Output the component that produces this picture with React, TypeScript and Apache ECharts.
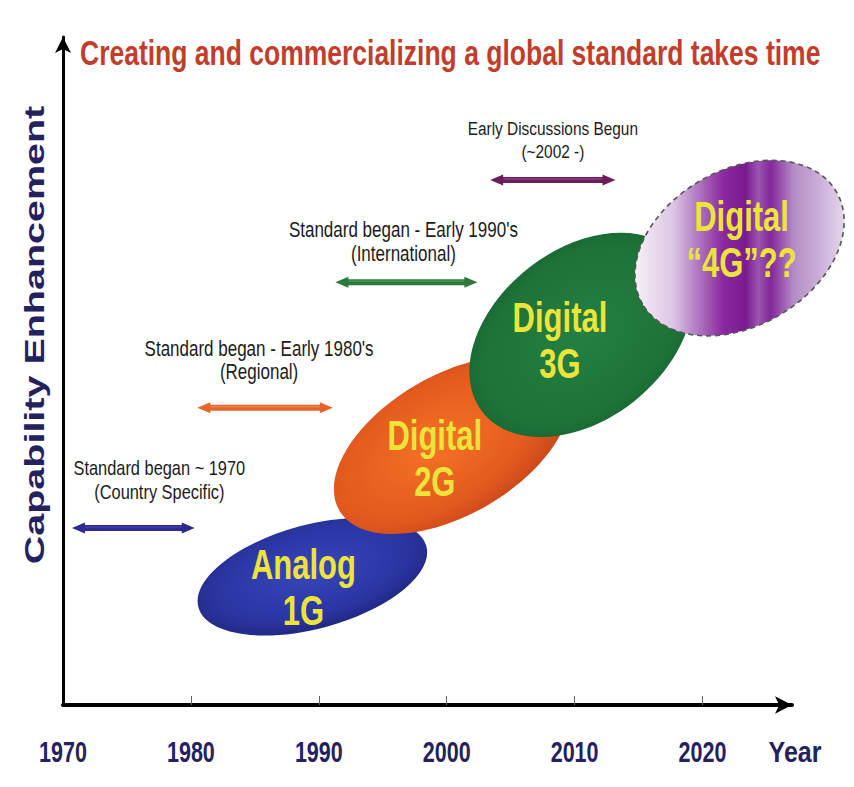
import React, { useEffect, useRef } from "react";
import * as echarts from "echarts";

// ---------- data ----------
const titleText = "Creating and commercializing a global standard takes time";
const yAxisTitle = "Capability Enhancement";
const xAxisTitle = "Year";
const yearTicks = [1970, 1980, 1990, 2000, 2010, 2020];
const yearMin = 1970;
const yearMax = 2027;
const levelMin = 0;
const levelMax = 100;

const generationLabels = ["Analog\n1G", "Digital\n2G", "Digital\n3G", "Digital\n\u201C4G\u201D??"];
const generationYear = [1989.5, 2000.4, 2010.5, 2022.9];
const generationLevel = [19.2, 38.9, 55.4, 68.4];

const standardLabels = [
  "Standard began ~ 1970\n(Country Specific)",
  "Standard began - Early 1980's\n(Regional)",
  "Standard began - Early 1990's\n(International)",
  "Early Discussions Begun\n(~2002 -)",
];
const standardStart = [1970.7, 1980.5, 1991.3, 2003.4];
const standardEnd = [1980.3, 1991.1, 2002.4, 2013.2];
const standardLevel = [26.5, 44.5, 63.3, 78.6];

// ---------- styles ----------
const SANS = '"Liberation Sans", Arial, Helvetica, sans-serif';
const NAVY = "#23225e";
const YELLOW = "#ece43a";

const deg = Math.PI / 180;
const purpleStops = [
  { offset: 0, color: "#f6f0f8" },
  { offset: 0.18, color: "#dcc6e4" },
  { offset: 0.33, color: "#a664b8" },
  { offset: 0.42, color: "#8a2aa0" },
  { offset: 0.53, color: "#7a1a90" },
  { offset: 0.59, color: "#9c54b0" },
  { offset: 0.65, color: "#82289a" },
  { offset: 0.76, color: "#b48cc6" },
  { offset: 0.88, color: "#caaed8" },
  { offset: 1, color: "#e4d6ec" },
];
const gRot4 = 30 * deg;
const genStyle = [
  {
    rx: 118, ry: 52, rot: 15 * deg, dx: -9, dy: 11,
    fill: new echarts.graphic.RadialGradient(0.5, 0.45, 0.6, [
      { offset: 0, color: "#3846bc" },
      { offset: 0.7, color: "#2a35a2" },
      { offset: 1, color: "#1d2478" },
    ]),
  },
  {
    rx: 130, ry: 70, rot: 30 * deg, dx: -17, dy: 14,
    fill: new echarts.graphic.RadialGradient(0.45, 0.45, 0.62, [
      { offset: 0, color: "#f47224" },
      { offset: 0.7, color: "#e2591e" },
      { offset: 1, color: "#c4431a" },
    ]),
  },
  {
    rx: 125, ry: 85, rot: 38 * deg, dx: -21, dy: 6,
    fill: new echarts.graphic.RadialGradient(0.5, 0.5, 0.6, [
      { offset: 0, color: "#248042" },
      { offset: 0.75, color: "#1d7238" },
      { offset: 1, color: "#155b2d" },
    ]),
  },
  {
    rx: 112, ry: 78, rot: gRot4, dx: 2, dy: -8,
    fill: new echarts.graphic.LinearGradient(
      -104 * Math.cos(gRot4), -104 * Math.sin(gRot4),
      104 * Math.cos(gRot4), 104 * Math.sin(gRot4),
      purpleStops, true
    ),
    stroke: "#555", dash: [5, 4],
  },
];

const arrowStyle = [
  { color: "#2c2a8c", light: "#5a58c0", dx: 26, dy: -48.5, size: 16.4 },
  { color: "#e4662a", light: "#f8a070", dx: -6, dy: -47.5, size: 17 },
  { color: "#2a7a3c", light: "#5aa86a", dx: -3, dy: -40, size: 17 },
  { color: "#6e1c5e", light: "#a0508e", dx: 0, dy: -40, size: 15.4 },
];

function buildOption(): any {
  const genData = generationYear.map((y, i) => [y, generationLevel[i]]);
  const stdData = standardStart.map((s, i) => [s, standardEnd[i], standardLevel[i]]);
  const tickLabelData = [...yearTicks, yearMax].map((v) => [v, levelMin]);
  return {
    animation: false,
    backgroundColor: "#ffffff",
    grid: { left: 63, right: 62, top: 37, bottom: 82, containLabel: false, outerBoundsMode: "none" },
    xAxis: {
      type: "value",
      min: yearMin,
      max: yearMax,
      splitLine: { show: false },
      axisLine: {
        show: true,
        lineStyle: { color: "#000", width: 4 },
        symbol: ["none", "arrow"],
        symbolSize: [13, 17],
      },
      axisTick: {
        show: true,
        customValues: yearTicks.slice(1),
        inside: true,
        length: 9,
        lineStyle: { color: "#666", width: 1 },
      },
      axisLabel: { show: false },
    },
    yAxis: {
      type: "value",
      min: levelMin,
      max: levelMax,
      splitLine: { show: false },
      axisTick: { show: false },
      axisLabel: { show: false },
      axisLine: {
        show: true,
        lineStyle: { color: "#000", width: 3 },
        symbol: ["none", "arrow"],
        symbolSize: [12, 16],
      },
    },
    graphic: [
      {
        type: "text",
        x: 80,
        y: 53,
        scaleY: 1.3,
        style: {
          text: titleText,
          fill: "#c23d2c",
          fontFamily: SANS,
          fontWeight: "bold",
          fontSize: 26.5,
          align: "left",
          textAlign: "left",
          verticalAlign: "middle",
          textVerticalAlign: "middle",
        },
      },
      {
        type: "text",
        x: 34,
        y: 335,
        rotation: Math.PI / 2,
        scaleX: 1.41,
        style: {
          text: yAxisTitle,
          fill: NAVY,
          fontFamily: SANS,
          fontWeight: "bold",
          fontSize: 28,
          align: "center",
          textAlign: "center",
          verticalAlign: "middle",
          textVerticalAlign: "middle",
        },
      },
    ],
    series: [
      {
        type: "custom",
        name: "generations",
        coordinateSystem: "cartesian2d",
        clip: false,
        silent: true,
        encode: { x: 0, y: 1 },
        data: genData,
        renderItem: (params: any, api: any) => {
          const i = params.dataIndex;
          const p = api.coord([api.value(0), api.value(1)]);
          const s: any = genStyle[i];
          return {
            type: "group",
            children: [
              {
                type: "ellipse",
                x: p[0],
                y: p[1],
                rotation: s.rot,
                shape: { cx: 0, cy: 0, rx: s.rx, ry: s.ry },
                style: {
                  fill: s.fill,
                  stroke: s.stroke || null,
                  lineWidth: s.stroke ? 1.6 : 0,
                  lineDash: s.dash || null,
                },
              },
              {
                type: "text",
                x: p[0] + s.dx,
                y: p[1] + s.dy,
                scaleY: 1.35,
                style: {
                  text: generationLabels[i],
                  fill: YELLOW,
                  fontFamily: SANS,
                  fontWeight: "bold",
                  fontSize: 31,
                  lineHeight: 34,
                  align: "center",
                  verticalAlign: "middle",
                },
              },
            ],
          };
        },
      },
      {
        type: "custom",
        name: "standards",
        coordinateSystem: "cartesian2d",
        clip: false,
        silent: true,
        encode: { x: [0, 1], y: 2 },
        data: stdData,
        renderItem: (params: any, api: any) => {
          const i = params.dataIndex;
          const p1 = api.coord([api.value(0), api.value(2)]);
          const p2 = api.coord([api.value(1), api.value(2)]);
          const st = arrowStyle[i];
          const y = p1[1];
          const head = 13;
          const hw = 5.5;
          const cx = (p1[0] + p2[0]) / 2;
          return {
            type: "group",
            children: [
              {
                type: "line",
                shape: { x1: p1[0] + head - 2, y1: y, x2: p2[0] - head + 2, y2: y },
                style: { stroke: st.color, lineWidth: 6 },
              },
              {
                type: "line",
                shape: { x1: p1[0] + head, y1: y - 1, x2: p2[0] - head, y2: y - 1 },
                style: { stroke: st.light, lineWidth: 1.2, opacity: 0.7 },
              },
              {
                type: "polygon",
                shape: { points: [[p1[0], y], [p1[0] + head, y - hw], [p1[0] + head, y + hw]] },
                style: { fill: st.color },
              },
              {
                type: "polygon",
                shape: { points: [[p2[0], y], [p2[0] - head, y - hw], [p2[0] - head, y + hw]] },
                style: { fill: st.color },
              },
              {
                type: "text",
                x: cx + st.dx,
                y: y + st.dy,
                scaleY: 1.25,
                style: {
                  text: standardLabels[i],
                  fill: "#1c1c1c",
                  fontFamily: SANS,
                  fontSize: st.size,
                  lineHeight: 19,
                  align: "center",
                  verticalAlign: "middle",
                },
              },
            ],
          };
        },
      },
      {
        type: "custom",
        name: "yearLabels",
        coordinateSystem: "cartesian2d",
        clip: false,
        silent: true,
        encode: { x: 0, y: 1 },
        data: tickLabelData,
        renderItem: (params: any, api: any) => {
          const v = api.value(0);
          const p = api.coord([v, api.value(1)]);
          const isName = v === yearMax;
          return {
            type: "text",
            x: p[0] + (isName ? 3 : 0),
            y: p[1] + 47,
            scaleY: isName ? 1.2 : 1.4,
            style: {
              text: isName ? xAxisTitle : String(v),
              fill: NAVY,
              fontFamily: SANS,
              fontWeight: "bold",
              fontSize: isName ? 25 : 21.5,
              align: "center",
              verticalAlign: "middle",
            },
          };
        },
      },
    ],
  };
}

export default function App() {
  const ref = useRef<HTMLDivElement>(null);
  useEffect(() => {
    if (!ref.current) return;
    const chart = echarts.init(ref.current, null, { renderer: "svg" });
    chart.setOption(buildOption());
    return () => chart.dispose();
  }, []);
  return (
    <div
      ref={ref}
      style={{ position: "fixed", left: 0, top: 0, width: 854, height: 787, background: "#fff" }}
    />
  );
}
